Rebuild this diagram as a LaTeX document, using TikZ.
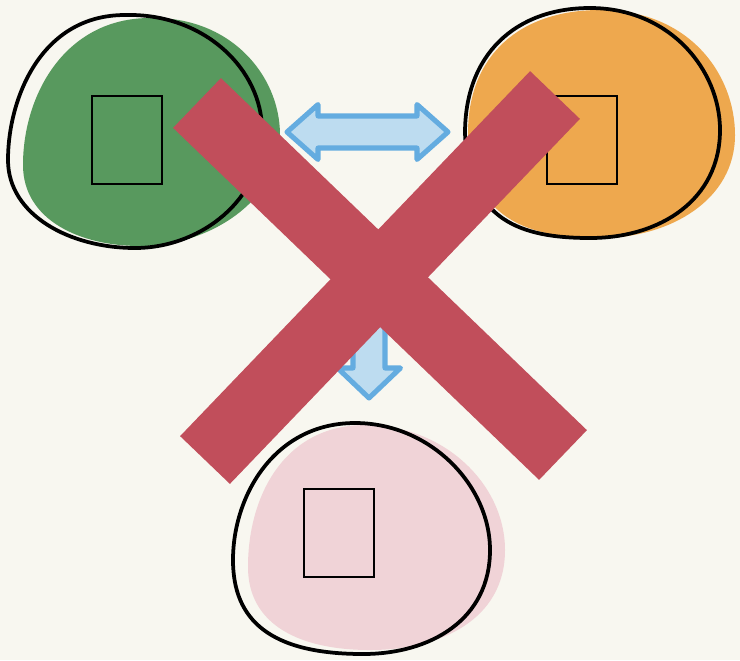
\documentclass[tikz,border=0pt]{standalone}
\usepackage{tikz}
\usetikzlibrary{calc}
\definecolor{paper}{HTML}{F8F7F0}
\definecolor{blobgreen}{RGB}{88,153,94}
\definecolor{bloborange}{RGB}{238,168,78}
\definecolor{blobpink}{RGB}{240,211,215}
\definecolor{arrowblue}{RGB}{100,172,224}
\definecolor{arrowfill}{RGB}{189,220,240}
\definecolor{crossred}{RGB}{193,78,91}

\begin{document}
\begin{tikzpicture}[x=0.03cm,y=-0.03cm]
				\tikzset{blobline/.style={draw=black,line width=3.2pt},
					glyphbox/.style={draw=black,line width=1.7pt,minimum width=59.8pt,minimum height=74.3pt,inner sep=0pt,outer sep=0pt},
					fatarrow/.style={draw=arrowblue,fill=arrowfill,line width=4.3pt,line join=round},
					crossbar/.style={draw=crossred,line width=58.9pt}}
				\fill[paper] (0,0) rectangle (740,660);% paper
				
				% green blob
				\fill[blobgreen] (150,18) .. controls (230,16) and (280,75) .. (280,135) .. controls (280,200) and (210,246) .. (140,246) .. controls (80,246) and (23,220) .. (23,165) .. controls (23,95) and (65,18) .. cycle;
				\draw[blobline] (125,15) .. controls (205,13) and (262,70) .. (262,130) .. controls (264,200) and (200,248) .. (135,248) .. controls (70,248) and (8,215) .. (8,160) .. controls (8,100) and (40,15) .. cycle;
				\node[glyphbox] (GreenBox) at (127,140) {};
				
				% orange blob
				\fill[bloborange] (600,10) .. controls (690,10) and (735,75) .. (735,135) .. controls (735,200) and (670,238) .. (600,238) .. controls (530,238) and (470,220) .. (468,133) .. controls (468,55) and (520,10) .. cycle;
				\draw[blobline] (590,8) .. controls (670,8) and (720,70) .. (720,130) .. controls (720,200) and (660,238) .. (590,238) .. controls (520,238) and (468,220) .. (465,133) .. controls (465,55) and (515,8) .. cycle;
				\node[glyphbox] (OrangeBox) at (582,140) {};
				
				% pink blob
				\fill[blobpink] (365,425) .. controls (445,425) and (505,485) .. (505,550) .. controls (505,620) and (440,650) .. (370,650) .. controls (300,650) and (248,625) .. (248,567) .. controls (248,495) and (285,425) .. cycle;
				\draw[blobline] (355,423) .. controls (430,423) and (490,485) .. (490,550) .. controls (490,620) and (430,654) .. (363,654) .. controls (270,654) and (233,620) .. (233,560) .. controls (233,495) and (275,423) .. cycle;
				\node[glyphbox] (PinkBox) at (339,533) {};
				
				% arrows
				\coordinate (GreenSide) at (287,132);
				\coordinate (OrangeSide) at (448,132);
				\coordinate (TopSide) at (369,250);
				\coordinate (PinkSide) at (369,398);
				\draw[fatarrow] (GreenSide) -- ++(31,-27.5) -- ++(0,11.5) -- ($(OrangeSide)+(-31,-16)$) -- ++(0,-11.5) -- (OrangeSide) -- ++(-31,27.5) -- ++(0,-11.5) -- ($(GreenSide)+(31,16)$) -- ++(0,11.5) -- cycle;
				\draw[fatarrow] ($(TopSide)+(-16,0)$) -- ++(32,0) -- ($(PinkSide)+(16,-30)$) -- ++(15.5,0) -- (PinkSide) -- ++(-31.5,-30) -- ++(15.5,0) -- cycle;
				
				% the cross
				\draw[crossbar] (197,103) -- (563,455);
				\draw[crossbar] (555,95) -- (205,460);
				\end{tikzpicture}
\end{document}
